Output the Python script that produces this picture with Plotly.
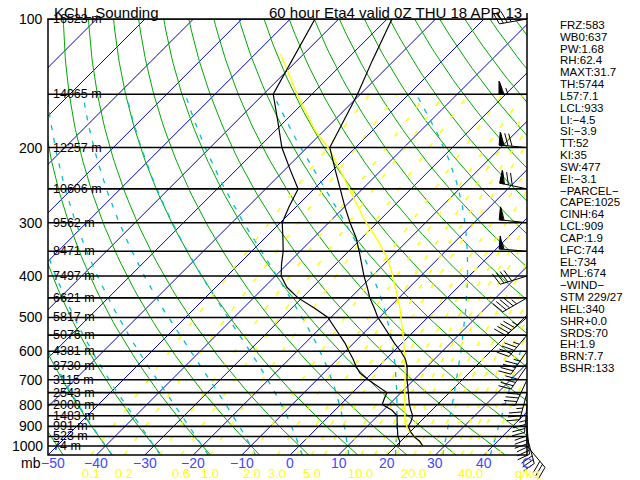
import numpy as np
import plotly.graph_objects as go

# ---------------- data ----------------
pres = [100, 125, 150, 175, 200, 225, 250, 275, 300, 325, 350, 375, 400, 425, 450, 475, 500,
        525, 550, 575, 600, 625, 650, 675, 700, 725, 750, 775, 800, 825, 850, 875, 900, 925,
        950, 975, 1000]
temp = [-69.0, -64.5, -60.6, -57.7, -55.3, -49.7, -44.6, -40.0, -35.6, -31.3, -27.8, -24.7,
        -21.7, -18.7, -16.0, -13.0, -10.3, -7.2, -4.3, -1.5, 1.4, 3.9, 5.8, 7.2, 8.6, 10.1,
        11.5, 12.9, 14.2, 15.7, 17.2, 18.0, 18.5, 20.0, 21.7, 23.9, 25.5]
dewp = [-84.9, -81.1, -78.0, -71.1, -65.2, -59.0, -53.3, -51.5, -49.6, -46.4, -43.5, -41.2,
        -38.8, -35.3, -30.8, -25.4, -20.6, -17.5, -14.5, -11.7, -9.3, -6.9, -4.8, -2.5, 0.6,
        4.0, 7.1, 7.8, 8.6, 11.8, 14.0, 15.1, 16.2, 17.3, 18.4, 19.8, 20.6]

parcel_p = [121, 151, 182, 203, 230, 261, 296, 329, 361, 394, 473, 565, 653, 752, 870, 918, 995]
parcel_t = [-84.7, -72.7, -62.0, -54.7, -47.5, -40.3, -33.1, -26.4, -20.9, -16.5, -7.9, -0.3,
            5.6, 10.9, 16.5, 19.2, 25.2]

hgt_p = [100, 150, 200, 250, 300, 350, 400, 450, 500, 550, 600, 650, 700, 750, 800, 850, 900,
         950, 1000]
hgt_m = [16523, 14065, 12257, 10606, 9562, 8471, 7497, 6621, 5817, 5076, 4381, 3730, 3115,
         2543, 2000, 1483, 991, 523, 74]

press_labels = [100, 200, 300, 400, 500, 600, 700, 800, 900, 1000]

wind_p = [100, 150, 200, 250, 300, 350, 400, 450, 500, 550, 600, 650, 700, 750, 800, 850, 900,
          950, 1000]
wind_dir = [260, 270, 275, 282, 276, 275, 253, 240, 230, 220, 215, 215, 205, 195, 185, 180,
            175, 165, 140]
wind_kt = [35, 65, 80, 80, 60, 55, 40, 45, 45, 45, 45, 40, 40, 35, 35, 30, 30, 30, 30]

temp_ticks = [-50, -40, -30, -20, -10, 0, 10, 20, 30, 40]
temp_tick_text = ["\u221250", "\u221240", "\u221230", "\u221220", "\u221210", "0", "10", "20",
                  "30", "40"]
mix_labels = [0.1, 0.2, 0.6, 1.0, 2.0, 3.0, 5.0, 10.0, 20.0, 40.0]
mix_lines = [0.1, 0.2, 0.4, 0.6, 1, 2, 3, 4, 5, 6, 8, 10, 12, 14, 16, 20, 24, 28, 32, 36, 40,
             48, 56]
isotherms = list(range(-160, 60, 10))
dry_theta = list(range(-80, 230, 10))
moist_thw = list(range(-40, 50, 10))

index_text = ["FRZ:583", "WB0:637", "PW:1.68", "RH:62.4", "MAXT:31.7", "TH:5744", "L57:7.1",
              "LCL:933", "LI:\u22124.5", "SI:\u22123.9", "TT:52", "KI:35", "SW:477",
              "EI:\u22123.1", "\u2212PARCEL\u2212", "CAPE:1025", "CINH:64", "LCL:909",
              "CAP:1.9", "LFC:744", "EL:734", "MPL:674", "\u2212WIND\u2212", "STM 229/27",
              "HEL:340", "SHR+0.0", "SRDS:70", "EH:1.9", "BRN:7.7", "BSHR:133"]

title_left = "KCLL Sounding"
title_right = "60 hour Eta4 valid 0Z THU 18 APR 13"

# ---------------- geometry ----------------
W, H = 640, 480
ML, MR, MT, MB = 48, 113, 19, 25
PW, PH = W - ML - MR, H - MT - MB
P_BOT, P_TOP = 1050.0, 100.0
X0 = -50.0
PX_PER_C = 4.843
X1 = X0 + PW / PX_PER_C
PX_PER_LN = PH / np.log(P_BOT / P_TOP)
SKEW = PX_PER_LN / PX_PER_C


def skx(t, p):
    return np.asarray(t, float) + SKEW * np.log(P_BOT / np.asarray(p, float))


def joined(paths):
    xs, ys = [], []
    for x, y in paths:
        xs += list(x) + [None]
        ys += list(y) + [None]
    return xs, ys


# thermodynamics for background lines
RD, CP, LV, EPS, KAP = 287.04, 1005.7, 2.501e6, 0.622, 0.2857


def sat_mr(p, tk):
    tc = tk - 273.15
    es = 6.112 * np.exp(17.67 * tc / (tc + 243.5))
    return EPS * es / (p - es)


def dtdp(p, tk):
    rs = sat_mr(p, tk)
    return (RD * tk + LV * rs) / (CP + LV * LV * rs * EPS / (RD * tk * tk)) / p


def moist_path(tw, plev):
    t = tw + 273.15
    out = [t]
    for i in range(len(plev) - 1):
        p = plev[i]
        h = plev[i + 1] - p
        k1 = dtdp(p, t)
        k2 = dtdp(p + h / 2, t + h / 2 * k1)
        k3 = dtdp(p + h / 2, t + h / 2 * k2)
        k4 = dtdp(p + h, t + h * k3)
        t = t + h / 6 * (k1 + 2 * k2 + 2 * k3 + k4)
        out.append(t)
    return np.array(out) - 273.15


def td_from_w(w, p):
    e = w * np.asarray(p, float) / (622.0 + w)
    a = np.log(e / 6.112)
    return 243.5 * a / (17.67 - a)


fig = go.Figure()

# isotherms
paths = [(skx([t, t], [P_BOT, P_TOP]), [P_BOT, P_TOP]) for t in isotherms]
x, y = joined(paths)
fig.add_trace(go.Scatter(x=x, y=y, mode="lines", line=dict(color="#0000c8", width=1),
                         hoverinfo="skip"))

# dry adiabats
pp = np.geomspace(P_BOT, P_TOP, 80)
paths = []
for th in dry_theta:
    t = (th + 273.15) * (pp / 1000.0) ** KAP - 273.15
    paths.append((skx(t, pp), pp))
x, y = joined(paths)
fig.add_trace(go.Scatter(x=x, y=y, mode="lines", line=dict(color="#00aa00", width=1),
                         hoverinfo="skip"))

# moist adiabats
p_up = np.linspace(1000, 150, 171)
p_dn = np.linspace(1000, 1050, 11)
paths = []
for tw in moist_thw:
    tu = moist_path(tw, p_up)
    td = moist_path(tw, p_dn)
    pall = np.concatenate([p_dn[::-1], p_up[1:]])
    tall = np.concatenate([td[::-1], tu[1:]])
    paths.append((skx(tall, pall), pall))
x, y = joined(paths)
fig.add_trace(go.Scatter(x=x, y=y, mode="lines",
                         line=dict(color="#00bfcc", width=1.3, dash="5px,8px"),
                         hoverinfo="skip"))

# mixing ratio lines
pm = np.geomspace(P_BOT, 150, 40)
paths = [(skx(td_from_w(w, pm), pm), pm) for w in mix_lines]
x, y = joined(paths)
fig.add_trace(go.Scatter(x=x, y=y, mode="lines",
                         line=dict(color="#ffff00", width=1.5, dash="5px,13px"),
                         hoverinfo="skip"))

# pressure lines
paths = [([X0, X1], [p, p]) for p in hgt_p]
x, y = joined(paths)
fig.add_trace(go.Scatter(x=x, y=y, mode="lines", line=dict(color="black", width=1.6),
                         hoverinfo="skip"))

# parcel, temperature, dewpoint
fig.add_trace(go.Scatter(x=skx(parcel_t, parcel_p), y=parcel_p, mode="lines",
                         line=dict(color="#ffff00", width=1.4), hoverinfo="skip"))
fig.add_trace(go.Scatter(x=skx(temp, pres), y=pres, mode="lines",
                         line=dict(color="black", width=1.2), hoverinfo="skip"))
fig.add_trace(go.Scatter(x=skx(dewp, pres), y=pres, mode="lines",
                         line=dict(color="black", width=1.2), hoverinfo="skip"))

# wind barbs (pixel-sized glyphs anchored on the right edge), drawn on an
# unclipped full-figure overlay axis pair that shares the same scales
L_STAFF, L_BARB = 28.0, 13.0


def to_data(p0, dx, dy):
    return X1 + dx / PX_PER_C, p0 * np.exp(-dy / PX_PER_LN)


line_paths, flag_paths = [], []
for p0, d, s in zip(wind_p, wind_dir, wind_kt):
    ux, uy = np.sin(np.radians(d)), np.cos(np.radians(d))
    nx, ny = uy, -ux
    tl = np.radians(20)
    bx, by = nx * np.cos(tl) + ux * np.sin(tl), ny * np.cos(tl) + uy * np.sin(tl)
    segs = [[(0, 0), (L_STAFF * ux, L_STAFF * uy)]]
    tris = []
    rem = int(5 * round(s / 5.0))
    pos = L_STAFF
    while rem >= 50:
        tris.append([(pos * ux, pos * uy), ((pos - 4) * ux, (pos - 4) * uy),
                     (pos * ux + L_BARB * nx, pos * uy + L_BARB * ny)])
        pos -= 5
        rem -= 50
    while rem >= 10:
        segs.append([(pos * ux, pos * uy), (pos * ux + L_BARB * bx, pos * uy + L_BARB * by)])
        pos -= 4
        rem -= 10
    if rem >= 5:
        if pos == L_STAFF:
            pos -= 4
        segs.append([(pos * ux, pos * uy),
                     (pos * ux + L_BARB / 2 * bx, pos * uy + L_BARB / 2 * by)])
    for sg in segs:
        pts = [to_data(p0, a, b) for a, b in sg]
        line_paths.append(([q[0] for q in pts], [q[1] for q in pts]))
    for tr in tris:
        pts = [to_data(p0, a, b) for a, b in tr + [tr[0]]]
        flag_paths.append(([q[0] for q in pts], [q[1] for q in pts]))

x, y = joined(line_paths)
fig.add_trace(go.Scatter(x=x, y=y, mode="lines", line=dict(color="black", width=1),
                         xaxis="x2", yaxis="y2", hoverinfo="skip"))
x, y = joined(flag_paths)
fig.add_trace(go.Scatter(x=x, y=y, mode="lines", fill="toself", fillcolor="black",
                         line=dict(color="black", width=1), xaxis="x2", yaxis="y2",
                         hoverinfo="skip"))

FONT = "Liberation Sans, Arial, sans-serif"

ann = []
# height labels on the pressure lines
for p, h in zip(hgt_p, hgt_m):
    ann.append(dict(x=X0, xref="x", y=float(np.log10(p)), yref="y", xanchor="left",
                    yanchor="middle", xshift=3, text=f"{h} m", showarrow=False,
                    font=dict(family=FONT, size=12.5, color="black")))
# pressure labels
for p in press_labels:
    ann.append(dict(x=X0, xref="x", y=float(np.log10(p)), yref="y", xanchor="right",
                    yanchor="middle", xshift=-3, text=str(p), showarrow=False,
                    font=dict(family=FONT, size=14, color="black")))

YB = float(np.log10(P_BOT))
for t, s in zip(temp_ticks, temp_tick_text):
    ann.append(dict(x=t, xref="x", y=YB, yref="y", yanchor="top", xanchor="center",
                    text=s, showarrow=False, yshift=2, xshift=5 if t == X0 else 0,
                    font=dict(family=FONT, size=14, color="#4646ff")))
ann.append(dict(x=X1, xref="x", y=YB, yref="y", yanchor="top", xanchor="center",
                text="C", showarrow=False, yshift=2,
                font=dict(family=FONT, size=14, color="#4646ff")))
for w in mix_labels:
    ann.append(dict(x=float(td_from_w(w, P_BOT)), xref="x", y=YB, yref="y", yanchor="top",
                    xanchor="center", text=f"{w:.1f}", showarrow=False, yshift=-9,
                    font=dict(family=FONT, size=13, color="#ffff00")))
ann.append(dict(x=X1, xref="x", y=YB, yref="y", yanchor="top", xanchor="center",
                text="g/kg", showarrow=False, yshift=-9,
                font=dict(family=FONT, size=13, color="#ffff00")))
ann.append(dict(x=X0, xref="x", y=YB, yref="y", yanchor="top", xanchor="right",
                text="mb", showarrow=False, xshift=-5, yshift=2,
                font=dict(family=FONT, size=14, color="black")))

# titles (paper coordinates = whole figure, margins are zero)
ann.append(dict(x=52 / W, xref="paper", y=1 - 12 / H, yref="paper",
                xanchor="left", yanchor="middle", text=title_left, showarrow=False,
                font=dict(family=FONT, size=15, color="black")))
ann.append(dict(x=524 / W, xref="paper", y=1 - 12 / H, yref="paper",
                xanchor="right", yanchor="middle", text=title_right, showarrow=False,
                font=dict(family=FONT, size=15, color="black")))

# index panel
for i, s in enumerate(index_text):
    ypx = 25 + i * 11.83
    ann.append(dict(x=558 / W, xref="paper", y=1 - ypx / H, yref="paper",
                    xanchor="left", yanchor="middle", text=s, showarrow=False,
                    font=dict(family=FONT, size=11.5, color="black")))

fig.update_layout(
    width=W, height=H,
    margin=dict(l=0, r=0, t=0, b=0, pad=0),
    paper_bgcolor="white", plot_bgcolor="rgba(0,0,0,0)",
    showlegend=False,
    xaxis=dict(domain=[ML / W, (ML + PW) / W], range=[X0, X1], visible=False,
               fixedrange=True, anchor="y"),
    yaxis=dict(domain=[MB / H, (MB + PH) / H], type="log",
               range=[np.log10(P_BOT), np.log10(P_TOP)], visible=False, fixedrange=True,
               anchor="x"),
    xaxis2=dict(domain=[0, 1], range=[X0 - ML / PX_PER_C, X1 + MR / PX_PER_C],
                visible=False, fixedrange=True, anchor="y2"),
    yaxis2=dict(domain=[0, 1], type="log",
                range=[np.log10(P_BOT * np.exp(MB / PX_PER_LN)),
                       np.log10(P_TOP * np.exp(-MT / PX_PER_LN))],
                visible=False, fixedrange=True, anchor="x2"),
    annotations=ann,
    shapes=[
        dict(type="rect", xref="x domain", yref="y domain", x0=0, y0=0, x1=1, y1=1,
             line=dict(color="black", width=1.5), layer="above"),
        dict(type="line", xref="x domain", yref="y domain", x0=1, y0=1, x1=1, y1=1 + 6 / PH,
             line=dict(color="black", width=1.5)),
    ],
)

fig.write_html("out.html", config={"displayModeBar": False},
               post_script="document.body.style.margin='0';document.body.style.overflow='hidden';")
